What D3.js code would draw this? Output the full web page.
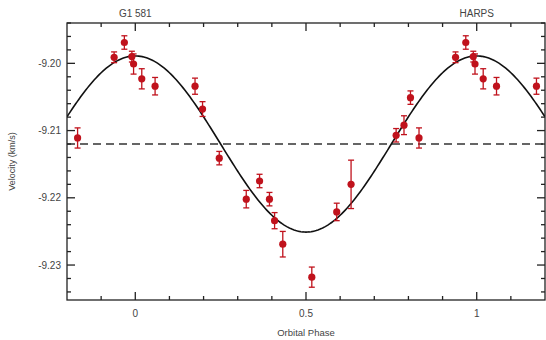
<!DOCTYPE html>
<html><head><meta charset="utf-8">
<script src="https://cdn.jsdelivr.net/npm/d3@7"></script>
<style>body{margin:0;background:#fff}svg{display:block}</style>
</head><body>
<script>
// ---- data ----
const phases = [0.938, 0.968, 0.990, 0.995, 0.019, 0.058, 0.175, 0.197, 0.246, 0.325, 0.364,
                0.393, 0.408, 0.432, 0.517, 0.590, 0.632, 0.764, 0.787, 0.806, 0.831];
const velocities = [-9.1991, -9.1969, -9.1990, -9.2001, -9.2023, -9.2034, -9.2034, -9.2068, -9.2141, -9.2202, -9.2175,
                    -9.2202, -9.2234, -9.2269, -9.2318, -9.2221, -9.2180, -9.2107, -9.2092, -9.2051, -9.2111];
const errors = [0.0008, 0.0010, 0.0008, 0.0015, 0.0015, 0.0013, 0.0012, 0.0011, 0.0010, 0.0013, 0.0010,
                0.0010, 0.0012, 0.0019, 0.0015, 0.0013, 0.0036, 0.0010, 0.0014, 0.0010, 0.0015];
const systemicVelocity = -9.2120;   // dashed line
const semiAmplitude = 0.0131;       // fitted orbit amplitude (km/s)
const xMajorTicks = [0, 0.5, 1];
const xTickLabels = ["0", "0.5", "1"];
const yMajorTicks = [-9.20, -9.21, -9.22, -9.23];
const yTickLabels = ["-9.20", "-9.21", "-9.22", "-9.23"];
const titleLeft = "G1 581", titleRight = "HARPS";
const xTitle = "Orbital Phase", yTitle = "Velocity (km/s)";

// ---- layout ----
const W = 546, H = 340;
const L = 67, R = 545, T = 23, B = 300;
const x = d3.scaleLinear().domain([-0.2, 1.2]).range([L, R]);
const y = d3.scaleLinear().domain([-9.2352, -9.194]).range([B, T]);

const svg = d3.select("body").append("svg").attr("width", W).attr("height", H);
const txt = "#444", font = "Liberation Sans, Arial, sans-serif";

svg.append("defs").append("clipPath").attr("id", "clip")
  .append("rect").attr("x", L).attr("y", T).attr("width", R - L).attr("height", B - T);

// points incl. phase-wrapped copies
const pts = [];
phases.forEach((p, i) => {
  [p - 1, p, p + 1].forEach(q => {
    if (q >= -0.18 && q <= 1.18) pts.push({p: q, v: velocities[i], e: errors[i]});
  });
});

const g = svg.append("g").attr("clip-path", "url(#clip)");

// dashed systemic line
g.append("line").attr("x1", L).attr("x2", R)
  .attr("y1", y(systemicVelocity)).attr("y2", y(systemicVelocity))
  .attr("stroke", "#333").attr("stroke-width", 1.6).attr("stroke-dasharray", "8,5");

// model curve
const curveX = d3.range(-0.2, 1.2001, 0.005);
g.append("path")
  .datum(curveX)
  .attr("fill", "none").attr("stroke", "#111").attr("stroke-width", 1.6)
  .attr("d", d3.line().x(d => x(d)).y(d => y(systemicVelocity + semiAmplitude * Math.cos(2 * Math.PI * d))));

// error bars
const red = "#c0121c";
const eb = g.append("g").attr("stroke", red).attr("stroke-width", 1.3);
pts.forEach(d => {
  const cx = x(d.p);
  eb.append("line").attr("x1", cx).attr("x2", cx).attr("y1", y(d.v - d.e)).attr("y2", y(d.v + d.e));
  eb.append("line").attr("x1", cx - 3).attr("x2", cx + 3).attr("y1", y(d.v - d.e)).attr("y2", y(d.v - d.e));
  eb.append("line").attr("x1", cx - 3).attr("x2", cx + 3).attr("y1", y(d.v + d.e)).attr("y2", y(d.v + d.e));
});
g.selectAll("circle.pt").data(pts).join("circle")
  .attr("cx", d => x(d.p)).attr("cy", d => y(d.v)).attr("r", 3.6).attr("fill", red);

// ---- axes frame ----
const ax = svg.append("g").attr("stroke", "#222").attr("stroke-width", 1.3);
ax.append("rect").attr("x", L).attr("y", T).attr("width", R - L).attr("height", B - T).attr("fill", "none");

const xMinor = d3.range(-1, 12).map(i => +(i / 10).toFixed(2)).filter(v => !xMajorTicks.includes(v));
const yMinor = d3.range(0, 21).map(i => +(-9.194 - i * 0.002).toFixed(3)).filter(v => !yMajorTicks.some(m => Math.abs(m - v) < 1e-6));

function xTicks(vals, len) {
  vals.forEach(v => {
    ax.append("line").attr("x1", x(v)).attr("x2", x(v)).attr("y1", B).attr("y2", B - len);
    ax.append("line").attr("x1", x(v)).attr("x2", x(v)).attr("y1", T).attr("y2", T + len);
  });
}
function yTicks(vals, len) {
  vals.forEach(v => {
    ax.append("line").attr("y1", y(v)).attr("y2", y(v)).attr("x1", L).attr("x2", L + len);
    ax.append("line").attr("y1", y(v)).attr("y2", y(v)).attr("x1", R).attr("x2", R - len);
  });
}
xTicks(xMinor, 4); xTicks(xMajorTicks, 8);
yTicks(yMinor, 4); yTicks(yMajorTicks, 8);

// tick labels
svg.append("g").selectAll("text").data(xMajorTicks).join("text")
  .attr("x", d => x(d)).attr("y", 317).attr("text-anchor", "middle")
  .attr("font-family", font).attr("font-size", 10).attr("fill", txt)
  .text((d, i) => xTickLabels[i]);
svg.append("g").selectAll("text").data(yMajorTicks).join("text")
  .attr("x", 61).attr("y", d => y(d) + 3.5).attr("text-anchor", "end")
  .attr("font-family", font).attr("font-size", 10).attr("fill", txt)
  .text((d, i) => yTickLabels[i]);

// titles
svg.append("text").attr("x", x(0)).attr("y", 17).attr("text-anchor", "middle")
  .attr("font-family", font).attr("font-size", 10).attr("fill", txt).text(titleLeft);
svg.append("text").attr("x", x(1)).attr("y", 17).attr("text-anchor", "middle")
  .attr("font-family", font).attr("font-size", 10).attr("fill", txt).text(titleRight);
svg.append("text").attr("x", x(0.5)).attr("y", 336).attr("text-anchor", "middle")
  .attr("font-family", font).attr("font-size", 9.5).attr("fill", txt).text(xTitle);
svg.append("text").attr("transform", `translate(15,${(T + B) / 2}) rotate(-90)`).attr("text-anchor", "middle")
  .attr("font-family", font).attr("font-size", 9).attr("fill", txt).text(yTitle);
</script>
</body></html>
